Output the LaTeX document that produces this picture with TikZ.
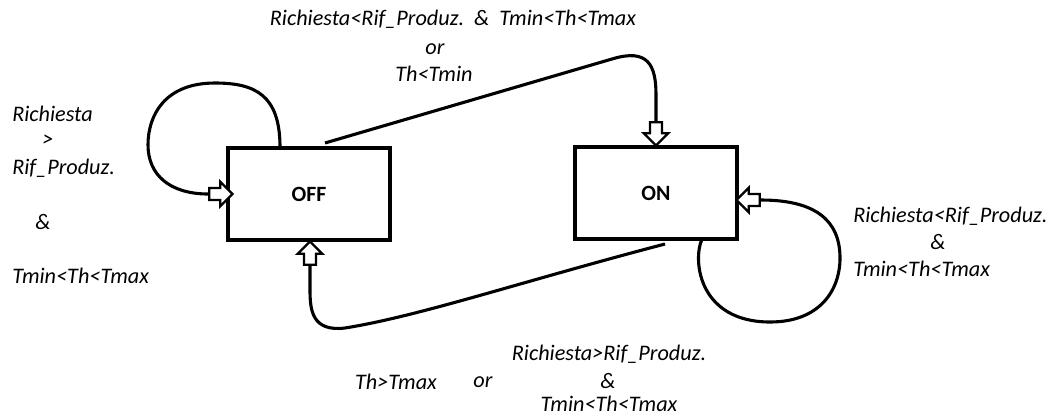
\documentclass[tikz,border=0pt]{standalone}
\usepackage{fontspec}
\setmainfont{Carlito}
\usetikzlibrary{shapes.arrows}

\tikzset{
    statebox/.style = {draw, line width=2.2pt, minimum width=4.05cm, minimum height=2.3cm,
                       font=\fontsize{15.5}{18}\selectfont\bfseries},
    hollowtip/.style = {draw, single arrow, line width=1.6pt, fill=white, inner sep=0.12cm,
                        single arrow head extend=0.16cm, minimum height=0.58cm},
    cond/.style = {font=\fontsize{15.8}{18}\selectfont\itshape, inner sep=0pt},
    link/.style = {line width=2.2pt}
}

\begin{document}
\begin{tikzpicture}[x=0.025cm, y=-0.025cm]
    \useasboundingbox (0,0) rectangle (1051,416);

    % States:
    \node[statebox] (off) at (309,194) {OFF};
    \node[statebox] (on) at (656,193) {ON};

    % Arrow heads:
    \node[hollowtip] (tipoff) at (218,194) {};
    \node[hollowtip, rotate=-90] (tipon) at (656,131) {};
    \node[hollowtip, rotate=90] (tipback) at (310,256) {};
    \node[hollowtip, rotate=180] (tipself) at (751,200) {};

    % Loop on OFF:
    \coordinate (offtop) at (280,147);
    \draw[link] (offtop) .. controls (280,95) and (255,83) .. (215,83)
                .. controls (165,83) and (148,115) .. (148,145)
                .. controls (148,175) and (170,194) .. (tipoff.tail);

    % OFF to ON:
    \coordinate (offexit) at (325,143);
    \draw[link] (offexit) -- (612,59) .. controls (648,48) and (656,65) .. (656,95) -- (tipon.tail);

    % ON to OFF:
    \coordinate (onexit) at (665,244);
    \draw[link] (onexit) .. controls (520,282) and (420,316) .. (345,328)
                .. controls (312,332) and (310,310) .. (310,290) -- (tipback.tail);

    % Loop on ON:
    \coordinate (onbottom) at (702,239);
    \draw[link] (onbottom) .. controls (692,262) and (700,322) .. (770,322)
                .. controls (820,322) and (840,290) .. (840,258)
                .. controls (840,220) and (815,200) .. (tipself.tail);

    % Conditions:
    \node[cond, anchor=west] (c1a) at (12,114) {Richiesta};
    \node[cond] (c1b) at (48,141) {>};
    \node[cond, anchor=west] (c1c) at (12,168) {Rif\_Produz.};
    \node[cond] (c1d) at (43,222) {\&};
    \node[cond, anchor=west] (c1e) at (12,276) {Tmin<Th<Tmax};

    \node[cond] (c2a) at (453,19) {Richiesta<Rif\_Produz.\ \ \&\ \ Tmin<Th<Tmax};
    \node[cond] (c2b) at (435,49) {or};
    \node[cond] (c2c) at (434,74) {Th<Tmin};

    \node[cond, anchor=west] (c3a) at (853,216) {Richiesta<Rif\_Produz.};
    \node[cond] (c3b) at (938,242) {\&};
    \node[cond, anchor=west] (c3c) at (853,269) {Tmin<Th<Tmax};

    \node[cond] (c4a) at (396,382) {Th>Tmax};
    \node[cond] (c4b) at (483,382) {or};
    \node[cond] (c4c) at (609,354) {Richiesta>Rif\_Produz.};
    \node[cond] (c4d) at (608,381) {\&};
    \node[cond] (c4e) at (609,404) {Tmin<Th<Tmax};
\end{tikzpicture}
\end{document}
